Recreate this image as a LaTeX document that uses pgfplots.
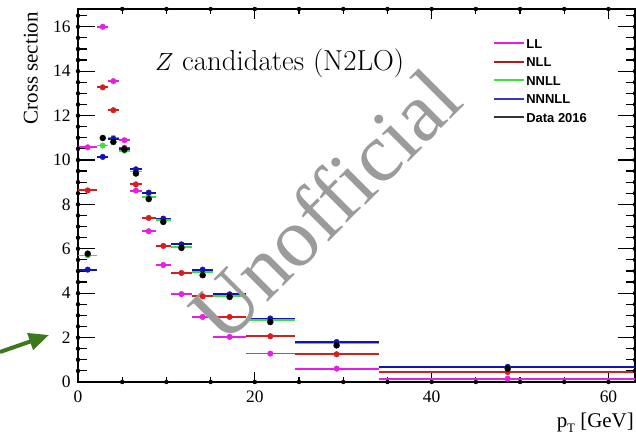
\documentclass[border=0pt]{standalone}
\usepackage{pgfplots}
\pgfplotsset{compat=1.18}
\usepackage{pgfplotstable}
\usepackage{fontspec}
\usetikzlibrary{arrows.meta}
\newfontfamily\timesfont{Liberation Serif}
\newfontfamily\arialfont{Liberation Sans}
\definecolor{cLL}{RGB}{230,30,230}
\definecolor{cNLL}{RGB}{215,30,30}
\definecolor{cNNLL}{RGB}{60,225,60}
\definecolor{cNNNLL}{RGB}{20,20,180}
\definecolor{arrowgreen}{RGB}{62,120,30}
\definecolor{wmgray}{RGB}{155,155,155}

\pgfplotstableread{
x     ex    LL     NLL    NNLL   NNNLL  Data
1.1   1.1   10.57  8.63   5.70   5.06   5.78
2.8   0.6   16.00  13.27  10.65  10.14  10.99
4.0   0.6   13.55  12.24  11.00  10.95  10.81
5.25  0.65  10.89  10.55  10.42  10.50  10.47
6.55  0.65  8.62   8.90   9.48   9.58   9.39
8.0   0.8   6.79   7.39   8.35   8.53   8.24
9.65  0.85  5.27   6.13   7.28   7.36   7.21
11.7  1.2   3.96   4.91   6.08   6.20   6.04
14.1  1.2   2.93   3.86   4.95   5.06   4.81
17.15 1.85  2.03   2.93   3.88   3.95   3.83
21.75 2.75  1.28   2.06   2.80   2.86   2.70
29.25 4.75  0.60   1.25   1.77   1.80   1.65
48.6  14.6  0.15   0.45   0.67   0.68   0.60
}\tbl

\begin{document}
\begin{tikzpicture}
\begin{axis}[
  at={(0,0)}, anchor=south west,
  scale only axis, width=557bp, height=373bp,
  xmin=0, xmax=63, ymin=0, ymax=16.8,
  xtick={0,20,40,60}, minor x tick num=3,
  ytick={0,2,...,16}, minor y tick num=3,
  tick align=inside,
  axis line style={line width=1.2bp, black},
  every tick/.append style={black, line width=1.2bp},
  xticklabel style={font=\timesfont\fontsize{17.5}{19}\selectfont, yshift=-5bp},
  yticklabel style={font=\timesfont\fontsize{17.5}{19}\selectfont, xshift=-4bp},
  /pgf/number format/assume math mode=true,
  xlabel={p\raisebox{-0.45ex}{\fontsize{13}{13}\selectfont T} [GeV]},
  x label style={at={(axis description cs:1,0)}, anchor=north east, yshift=-31bp, xshift=-1bp, inner sep=0pt, font=\timesfont\fontsize{21}{23}\selectfont},
  ylabel={Cross section},
  y label style={at={(axis description cs:0,1)}, anchor=south east, xshift=-3bp, yshift=40bp, inner sep=0pt, font=\timesfont\fontsize{21}{23}\selectfont},
  legend style={at={(rel axis cs:0.74,0.93)}, anchor=north west, draw=none, fill=none,
    font=\arialfont\bfseries\fontsize{13}{15}\selectfont, row sep=6.5bp,
    nodes={inner sep=1bp, text height=10bp, text depth=0bp}},
  legend cell align=left,
  legend image code/.code={\draw[#1] (0bp,0bp) -- (30bp,0bp);},
  error bars/error mark=none,
  tickbar/.style={forget plot, only marks, mark=none,
    error bars/error bar style={draw=black, line width=1.2bp, solid}},
]
% ---- long ROOT-style ticks, drawn as fixed-length bars on the axes ----
\addplot[tickbar, error bars/.cd, x dir=plus, x fixed=1.923] coordinates {(0,2)(0,4)(0,6)(0,8)(0,10)(0,12)(0,14)(0,16)};
\addplot[tickbar, error bars/.cd, x dir=plus, x fixed=1.018] coordinates {(0,0.5)(0,1)(0,1.5)(0,2.5)(0,3)(0,3.5)(0,4.5)(0,5)(0,5.5)(0,6.5)(0,7)(0,7.5)(0,8.5)(0,9)(0,9.5)(0,10.5)(0,11)(0,11.5)(0,12.5)(0,13)(0,13.5)(0,14.5)(0,15)(0,15.5)(0,16.5)};
\addplot[tickbar, error bars/.cd, x dir=minus, x fixed=1.923] coordinates {(63,2)(63,4)(63,6)(63,8)(63,10)(63,12)(63,14)(63,16)};
\addplot[tickbar, error bars/.cd, x dir=minus, x fixed=1.018] coordinates {(63,0.5)(63,1)(63,1.5)(63,2.5)(63,3)(63,3.5)(63,4.5)(63,5)(63,5.5)(63,6.5)(63,7)(63,7.5)(63,8.5)(63,9)(63,9.5)(63,10.5)(63,11)(63,11.5)(63,12.5)(63,13)(63,13.5)(63,14.5)(63,15)(63,15.5)(63,16.5)};
\addplot[tickbar, error bars/.cd, y dir=plus, y fixed=0.45] coordinates {(20,0)(40,0)(60,0)};
\addplot[tickbar, error bars/.cd, y dir=plus, y fixed=0.225] coordinates {(5,0)(10,0)(15,0)(25,0)(30,0)(35,0)(45,0)(50,0)(55,0)};
\addplot[tickbar, error bars/.cd, y dir=minus, y fixed=0.45] coordinates {(20,16.8)(40,16.8)(60,16.8)};
\addplot[tickbar, error bars/.cd, y dir=minus, y fixed=0.225] coordinates {(5,16.8)(10,16.8)(15,16.8)(25,16.8)(30,16.8)(35,16.8)(45,16.8)(50,16.8)(55,16.8)};

% ---- data ----
\addplot[forget plot, only marks, mark=*, mark size=2.8bp, color=cLL,
  error bars/.cd, x dir=both, x explicit, error bar style={line width=1.8bp}] table[x=x, y=LL, x error=ex]{\tbl};
\addplot[forget plot, only marks, mark=*, mark size=2.8bp, color=cNLL,
  error bars/.cd, x dir=both, x explicit, error bar style={line width=1.8bp}] table[x=x, y=NLL, x error=ex]{\tbl};
\addplot[forget plot, only marks, mark=*, mark size=2.8bp, color=cNNLL,
  error bars/.cd, x dir=both, x explicit, error bar style={line width=1.8bp}] table[x=x, y=NNLL, x error=ex]{\tbl};
\addplot[forget plot, only marks, mark=*, mark size=2.8bp, color=cNNNLL,
  error bars/.cd, x dir=both, x explicit, error bar style={line width=1.8bp}] table[x=x, y=NNNLL, x error=ex]{\tbl};
\addplot[forget plot, only marks, mark=*, mark size=3bp, color=black] table[x=x, y=Data]{\tbl};

\addlegendimage{cLL, line width=2bp}\addlegendentry{LL}
\addlegendimage{cNLL!85!black, line width=2bp}\addlegendentry{NLL}
\addlegendimage{cNNLL, line width=2bp}\addlegendentry{NNLL}
\addlegendimage{cNNNLL!85!white, line width=2bp}\addlegendentry{NNNLL}
\addlegendimage{black!80, line width=2bp}\addlegendentry{Data 2016}

\node[anchor=base west, inner sep=0pt] at (rel axis cs:0.138,0.836) {\fontsize{29}{33}\selectfont $Z$ candidates (N2LO)};
\node[rotate=45, text=wmgray, inner sep=0pt, font=\timesfont\fontsize{84}{84}\selectfont] at (rel axis cs:0.443,0.475) {Unofficial};
\end{axis}
\draw[arrowgreen, line width=4bp, -{Triangle[length=20bp,width=17bp]}] (-78bp,30bp) -- (-29bp,47bp);
\pgfresetboundingbox
\path[use as bounding box] (-78bp,-52bp) rectangle (558bp,382bp);
\end{tikzpicture}
\end{document}
